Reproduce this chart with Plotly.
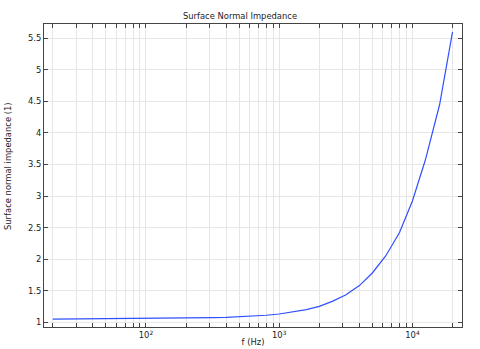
import plotly.graph_objects as go

freq_hz = [20, 25, 31.5, 40, 50, 63, 80, 100, 125, 160, 200, 250, 315, 400, 500,
           630, 800, 1000, 1250, 1600, 2000, 2500, 3150, 4000, 5000, 6300, 8000,
           10000, 12500, 16000, 20000]
impedance = [1.050, 1.051, 1.052, 1.053, 1.054, 1.056, 1.058, 1.060, 1.062, 1.064,
             1.066, 1.069, 1.073, 1.078, 1.085, 1.095, 1.110, 1.130, 1.160, 1.200,
             1.250, 1.330, 1.430, 1.580, 1.780, 2.050, 2.420, 2.920, 3.570, 4.450,
             5.600]

x_major = [100, 1000, 10000]
x_major_text = ["10<sup>2</sup>", "10<sup>3</sup>", "10<sup>4</sup>"]
x_minor = [v * m for m in (10, 100, 1000, 10000) for v in range(2, 10)]
x_minor = [v for v in x_minor if 17 <= v <= 23000]
y_tickvals = [1, 1.5, 2, 2.5, 3, 3.5, 4, 4.5, 5, 5.5]
y_ticktext = ["1", "1.5", "2", "2.5", "3", "3.5", "4", "4.5", "5", "5.5"]

fig = go.Figure()
fig.add_trace(go.Scatter(x=freq_hz, y=impedance, mode="lines",
                         line=dict(color="#3050ff", width=1.2), showlegend=False))

font = dict(family="DejaVu Sans", size=8.4, color="#222")
axis_common = dict(showline=True, linecolor="#444", linewidth=1, mirror="ticks",
                   ticks="inside", ticklen=4, tickcolor="#444",
                   showgrid=True, gridcolor="#e6e6e6", gridwidth=1, zeroline=False,
                   tickfont=font, automargin=False)

fig.update_layout(
    width=480, height=349,
    margin=dict(l=44, r=18, t=24, b=22),
    paper_bgcolor="white", plot_bgcolor="white",
    font=font,
    title=dict(text="Surface Normal Impedance", x=0.5, xanchor="center",
               y=1 - 16 / 349, yanchor="middle", font=font),
    xaxis=dict(type="log", range=[1.235, 4.372], tickvals=x_major, ticktext=x_major_text,
               minor=dict(tickvals=x_minor, ticks="inside", ticklen=4, tickcolor="#444",
                          showgrid=True, gridcolor="#e6e6e6"),
               title=dict(text="f (Hz)", font=font, standoff=0), **axis_common),
    yaxis=dict(range=[0.924, 5.726], tickvals=y_tickvals, ticktext=y_ticktext,
               **axis_common),
)
fig.add_annotation(text="Surface normal impedance (1)", xref="paper", yref="paper",
                   x=(8 - 44) / 418, y=(349 - 22 - 166) / 303, textangle=-90,
                   showarrow=False, font=font, xanchor="center", yanchor="middle")

fig.write_html("out.html")
